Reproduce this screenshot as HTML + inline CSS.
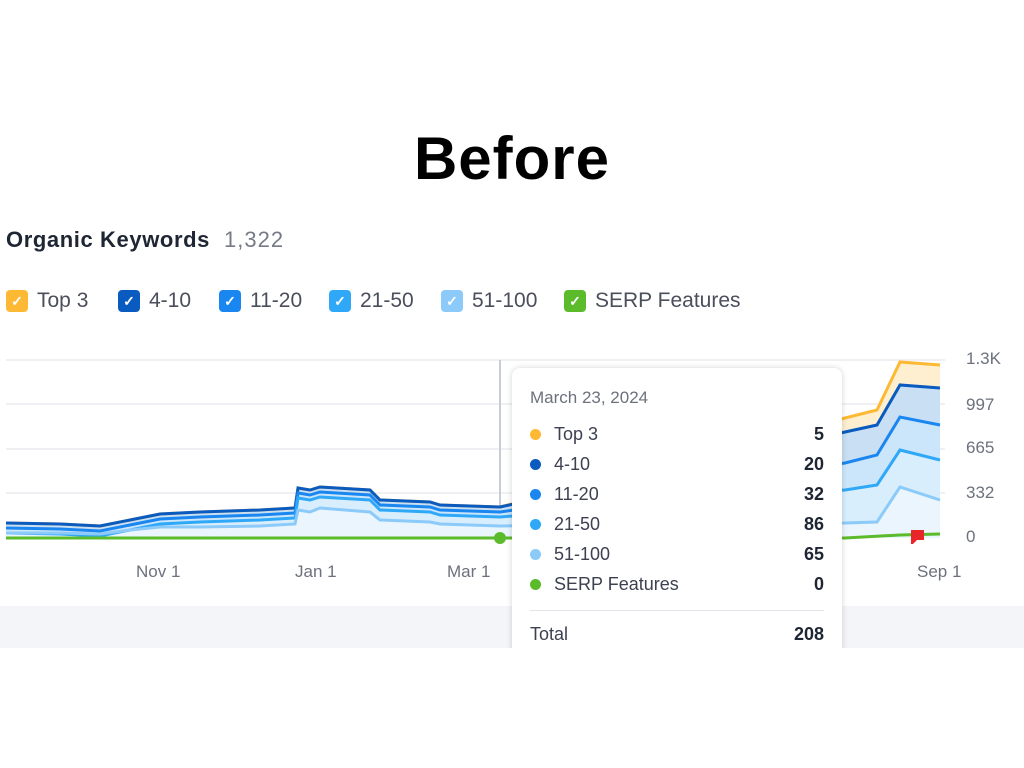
<!DOCTYPE html>
<html><head><meta charset="utf-8"><style>
body{margin:0;width:1024px;height:768px;background:#fff;font-family:"Liberation Sans",sans-serif;position:relative;overflow:hidden}
.abs{position:absolute}
h1{position:absolute;top:124px;left:0;width:1024px;text-align:center;margin:0;font-size:60px;font-weight:bold;color:#000;letter-spacing:1px}
.title{left:6px;top:227px;font-size:22px;font-weight:bold;color:#1f2633;letter-spacing:0.6px}
.title span{font-weight:normal;color:#757a86;margin-left:14px;letter-spacing:1px}
.leg{top:289px;font-size:21px;color:#4b4f5c;display:flex;align-items:center}
.cb{width:22px;height:22px;border-radius:4px;margin-right:9px;display:inline-flex;align-items:center;justify-content:center;color:#fff;font-size:14px;font-weight:bold}
.tt{left:512px;top:368px;width:330px;height:300px;background:#fff;border-radius:8px;box-shadow:0 0 6px rgba(0,0,0,.18)}
.row{position:absolute;left:18px;width:294px;font-size:18px;color:#3d4150;display:flex;align-items:center}
.row b{margin-left:auto;color:#1f2633}
.dot{width:11px;height:11px;border-radius:50%;margin-right:13px}
.yl{font-size:17px;color:#6c717d;left:966px}
.xl{font-size:17px;color:#6c717d;top:562px}
</style></head><body>
<h1>Before</h1>
<div class="abs title">Organic Keywords<span>1,322</span></div>
<div class="abs leg" style="left:6px"><span class="cb" style="background:#fdb933">✓</span>Top 3</div>
<div class="abs leg" style="left:118px"><span class="cb" style="background:#0a5bbf">✓</span>4-10</div>
<div class="abs leg" style="left:219px"><span class="cb" style="background:#1a86f0">✓</span>11-20</div>
<div class="abs leg" style="left:329px"><span class="cb" style="background:#30a8f8">✓</span>21-50</div>
<div class="abs leg" style="left:441px"><span class="cb" style="background:#8ccaf9">✓</span>51-100</div>
<div class="abs leg" style="left:564px"><span class="cb" style="background:#5bbb2b">✓</span>SERP Features</div>
<div class="abs" style="left:0;top:606px;width:1024px;height:42px;background:#f4f5f9"></div>
<svg class="abs" style="left:0;top:0" width="1024" height="768" id="s">
<g stroke="#ebecf0" stroke-width="1.5"><line x1="6" x2="945" y1="360" y2="360"/><line x1="6" x2="945" y1="404" y2="404"/><line x1="6" x2="945" y1="449" y2="449"/><line x1="6" x2="945" y1="493" y2="493"/></g>
<line x1="500" x2="500" y1="360" y2="540" stroke="#c8ccd4" stroke-width="2"/>
</svg>
<div class="abs yl" style="top:349px">1.3K</div>
<div class="abs yl" style="top:395px">997</div>
<div class="abs yl" style="top:438px">665</div>
<div class="abs yl" style="top:483px">332</div>
<div class="abs yl" style="top:527px">0</div>
<div class="abs xl" style="left:136px">Nov 1</div>
<div class="abs xl" style="left:295px">Jan 1</div>
<div class="abs xl" style="left:447px">Mar 1</div>
<div class="abs xl" style="left:917px">Sep 1</div>
<div class="abs tt">
<div class="abs" style="left:18px;top:20px;font-size:17px;color:#6c717d">March 23, 2024</div>
<div class="row" style="top:56px"><span class="dot" style="background:#fdb933"></span>Top 3<b>5</b></div>
<div class="row" style="top:86px"><span class="dot" style="background:#0a5bbf"></span>4-10<b>20</b></div>
<div class="row" style="top:116px"><span class="dot" style="background:#1a86f0"></span>11-20<b>32</b></div>
<div class="row" style="top:146px"><span class="dot" style="background:#30a8f8"></span>21-50<b>86</b></div>
<div class="row" style="top:176px"><span class="dot" style="background:#8ccaf9"></span>51-100<b>65</b></div>
<div class="row" style="top:206px"><span class="dot" style="background:#5bbb2b"></span>SERP Features<b>0</b></div>
<div class="abs" style="left:18px;top:242px;width:294px;border-top:1px solid #e2e4e9"></div>
<div class="row" style="top:256px"><span style="color:#3d4150">Total</span><b>208</b></div>
</div>
<div class="abs" style="left:0;top:648px;width:1024px;height:120px;background:#fff"></div>
<script>
var X=[6,60,100,130,160,200,260,295,298,310,320,370,380,430,440,500,845,877,900,940];
var L1=[523,524,526,520,514,512,510,508,488,490,487,490,500,502,505,507];
var L4=[533,533,534,530,527,527,526,524,510,512,508,512,520,522,524,526];
function mk(arr,right){return arr.concat(right);}
var T3=mk(L1.map(v=>v),[418,410,362,365]);
var A=mk(L1,[432,425,385,388]);
var B=mk(L1.map(v=>v+5),[463,455,417,425]);
var C=mk(L1.map(v=>v+10),[490,485,450,460]);
var D=mk(L4,[523,522,487,500]);
var S=[[T3,'#fdb933','#fdefd0'],[A,'#0a5bbf','#c9dff3'],[B,'#1a86f0','#cbe6fb'],[C,'#30a8f8','#d8eefd'],[D,'#8ccaf9','#eaf5fe']];
var svg=document.getElementById('s'),ns='http://www.w3.org/2000/svg';
function pts(a){return a.map((y,i)=>X[i]+','+y).join(' L');}
S.forEach(function(s){
 var f=document.createElementNS(ns,'path');f.setAttribute('d','M'+pts(s[0])+' L940,538 L6,538Z');f.setAttribute('fill',s[2]);svg.appendChild(f);
});
S.forEach(function(s){
 var p=document.createElementNS(ns,'path');p.setAttribute('d','M'+pts(s[0]));p.setAttribute('fill','none');p.setAttribute('stroke',s[1]);p.setAttribute('stroke-width','3');svg.appendChild(p);
});
var g=document.createElementNS(ns,'path');g.setAttribute('d','M6,538 L845,538 L900,535 L940,534');g.setAttribute('stroke','#5bbb2b');g.setAttribute('stroke-width','3');g.setAttribute('fill','none');svg.appendChild(g);
var c=document.createElementNS(ns,'circle');c.setAttribute('cx',500);c.setAttribute('cy',538);c.setAttribute('r',6);c.setAttribute('fill','#5bbb2b');svg.appendChild(c);
var r=document.createElementNS(ns,'path');r.setAttribute('d','M911,530 L924,530 L924,540 L917,540 L913,544 L911,544Z');r.setAttribute('fill','#e8262a');svg.appendChild(r);
</script>
</body></html>
